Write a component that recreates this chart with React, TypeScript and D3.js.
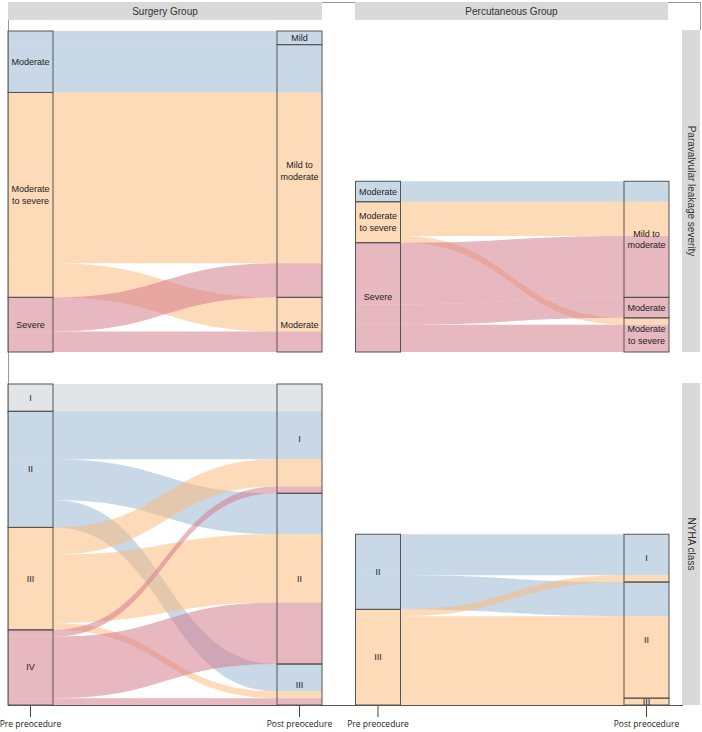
import React from "react";
import * as d3 from "d3";

const GROUPS = ["Surgery Group", "Percutaneous Group"];
const ROWS = ["Paravalvular leakage severity", "NYHA class"];
const AXIS_LABELS = ["Pre preocedure", "Post preocedure"];

const PVL_PRE = ["Moderate", "Moderate to severe", "Severe"];
const PVL_POST = ["Mild", "Mild to moderate", "Moderate", "Moderate to severe"];
const NYHA = ["I", "II", "III", "IV"];

type Flow = [string, string, number];

// [pre, post, patients]
const surgeryPvl: Flow[] = [
  ["Moderate", "Mild", 2],
  ["Moderate", "Mild to moderate", 7],
  ["Moderate to severe", "Mild to moderate", 25],
  ["Moderate to severe", "Moderate", 5],
  ["Severe", "Mild to moderate", 5],
  ["Severe", "Moderate", 3],
];
const percPvl: Flow[] = [
  ["Moderate", "Mild to moderate", 3],
  ["Moderate to severe", "Mild to moderate", 5],
  ["Moderate to severe", "Moderate to severe", 1],
  ["Severe", "Mild to moderate", 9],
  ["Severe", "Moderate", 3],
  ["Severe", "Moderate to severe", 4],
];
const surgeryNyha: Flow[] = [
  ["I", "I", 4],
  ["II", "I", 7],
  ["II", "II", 6],
  ["II", "III", 4],
  ["III", "I", 4],
  ["III", "II", 10],
  ["III", "III", 1],
  ["IV", "I", 1],
  ["IV", "II", 9],
  ["IV", "III", 1],
];
const percNyha: Flow[] = [
  ["II", "I", 6],
  ["II", "II", 5],
  ["III", "I", 1],
  ["III", "II", 12],
  ["III", "III", 1],
];

const PVL_COLORS: Record<string, string> = {
  Moderate: "#9bb8d2",
  "Moderate to severe": "#fbbc7e",
  Severe: "#d57e8c",
};
const NYHA_COLORS: Record<string, string> = {
  I: "#ccced0",
  II: "#9bb8d2",
  III: "#fbbc7e",
  IV: "#d57e8c",
};

const LABEL_LINES: Record<string, string[]> = {
  "Moderate to severe": ["Moderate", "to severe"],
  "Mild to moderate": ["Mild to", "moderate"],
};

const NODE_W = 45;
const FONT = "'Liberation Sans', Arial, Helvetica, sans-serif";

function layout(flows: Flow[], pre: string[], post: string[]) {
  const total = d3.sum(flows, (f) => f[2]);
  const mkNodes = (levels: string[], idx: number) => {
    let acc = total;
    return levels
      .map((l) => {
        const v = d3.sum(flows.filter((f) => f[idx] === l), (f) => f[2]);
        const top = acc;
        acc -= v;
        return { name: l, top, bottom: acc };
      })
      .filter((n) => n.top > n.bottom);
  };
  const preNodes = mkNodes(pre, 0);
  const postNodes = mkNodes(post, 1);
  const lodes = flows.map((f) => ({ from: f[0], to: f[1], n: f[2], aTop: 0, aBot: 0, bTop: 0, bBot: 0 }));
  const preCur = new Map(preNodes.map((n) => [n.name, n.top]));
  [...lodes]
    .sort((a, b) => pre.indexOf(a.from) - pre.indexOf(b.from) || post.indexOf(a.to) - post.indexOf(b.to))
    .forEach((l) => {
      const c = preCur.get(l.from)!;
      l.aTop = c;
      l.aBot = c - l.n;
      preCur.set(l.from, l.aBot);
    });
  const postCur = new Map(postNodes.map((n) => [n.name, n.top]));
  [...lodes]
    .sort((a, b) => post.indexOf(a.to) - post.indexOf(b.to) || pre.indexOf(a.from) - pre.indexOf(b.from))
    .forEach((l) => {
      const c = postCur.get(l.to)!;
      l.bTop = c;
      l.bBot = c - l.n;
      postCur.set(l.to, l.bBot);
    });
  return { total, preNodes, postNodes, lodes };
}

const PANELS = [
  { flows: surgeryPvl, pre: PVL_PRE, post: PVL_POST, colors: PVL_COLORS, col: 0, row: 0 },
  { flows: percPvl, pre: PVL_PRE, post: PVL_POST, colors: PVL_COLORS, col: 1, row: 0 },
  { flows: surgeryNyha, pre: NYHA, post: NYHA, colors: NYHA_COLORS, col: 0, row: 1 },
  { flows: percNyha, pre: NYHA, post: NYHA, colors: NYHA_COLORS, col: 1, row: 1 },
];

const COL_X = [
  [30.5, 299.5],
  [378, 646.5],
];
const ROW_Y = [
  [352, 31],
  [705, 384],
];
const STRIP_X = [
  [8, 322],
  [355, 668],
];

export default function App() {
  const maxTotal = d3.max(PANELS, (p) => d3.sum(p.flows, (f) => f[2]))!;
  return (
    <svg width={702} height={732} style={{ display: "block", position: "absolute", left: 0, top: 0, background: "#fff" }}>
      {/* frame lines */}
      <line x1={8} x2={700} y1={2.5} y2={2.5} stroke="#9a9a9a" strokeWidth={1} />
      <line x1={8.5} x2={8.5} y1={2} y2={705} stroke="#9a9a9a" strokeWidth={1} />
      <line x1={700.5} x2={700.5} y1={2} y2={30} stroke="#9a9a9a" strokeWidth={1} />

      {/* top strips */}
      {GROUPS.map((g, i) => (
        <g key={g}>
          <rect x={STRIP_X[i][0]} y={2} width={STRIP_X[i][1] - STRIP_X[i][0]} height={18} fill="#d9d9d9" />
          <text
            x={(STRIP_X[i][0] + STRIP_X[i][1]) / 2}
            y={11.5}
            textAnchor="middle"
            dominantBaseline="central"
            fontFamily={FONT}
            fontSize={10}
            fill="#333"
          >
            {g}
          </text>
        </g>
      ))}

      {/* right strips */}
      {ROWS.map((r, i) => {
        const y0 = ROW_Y[i][1] - 1;
        const y1 = ROW_Y[i][0];
        const cy = (y0 + y1) / 2;
        return (
          <g key={r}>
            <rect x={682} y={y0} width={18} height={y1 - y0} fill="#d9d9d9" />
            <text
              transform={`translate(691,${cy}) rotate(90)`}
              textAnchor="middle"
              dominantBaseline="central"
              fontFamily={FONT}
              fontSize={10}
              fill="#333"
            >
              {r}
            </text>
          </g>
        );
      })}

      {PANELS.map((p, pi) => {
        const L = layout(p.flows, p.pre, p.post);
        const y = d3.scaleLinear().domain([0, maxTotal]).range(ROW_Y[p.row]);
        const x = d3.scalePoint<string>().domain(AXIS_LABELS).range(COL_X[p.col]);
        const xa = x(AXIS_LABELS[0])!;
        const xb = x(AXIS_LABELS[1])!;
        const a0 = xa - NODE_W / 2;
        const a1 = xa + NODE_W / 2;
        const b0 = xb - NODE_W / 2;
        const b1 = xb + NODE_W / 2;
        const xm = (a1 + b0) / 2;
        return (
          <g key={pi}>
            {L.lodes.map((l, li) => {
              const path = d3.path();
              path.moveTo(a0, y(l.aTop));
              path.lineTo(a1, y(l.aTop));
              path.bezierCurveTo(xm, y(l.aTop), xm, y(l.bTop), b0, y(l.bTop));
              path.lineTo(b1, y(l.bTop));
              path.lineTo(b1, y(l.bBot));
              path.lineTo(b0, y(l.bBot));
              path.bezierCurveTo(xm, y(l.bBot), xm, y(l.aBot), a1, y(l.aBot));
              path.lineTo(a0, y(l.aBot));
              path.closePath();
              return <path key={li} d={path.toString()} fill={p.colors[l.from]} fillOpacity={0.55} />;
            })}
            {[
              { nodes: L.preNodes, cx: xa },
              { nodes: L.postNodes, cx: xb },
            ].map((ax, ai) => (
              <g key={ai}>
                {ax.nodes.map((n) => {
                  const top = y(n.top);
                  const bot = y(n.bottom);
                  const lines = LABEL_LINES[n.name] || [n.name];
                  const cy = (top + bot) / 2;
                  return (
                    <g key={n.name}>
                      <rect
                        x={ax.cx - NODE_W / 2}
                        y={top}
                        width={NODE_W}
                        height={bot - top}
                        fill="none"
                        stroke="#555"
                        strokeWidth={1}
                      />
                      {lines.map((t, ti) => (
                        <text
                          key={ti}
                          x={ax.cx}
                          y={cy + (ti - (lines.length - 1) / 2) * 11.5}
                          textAnchor="middle"
                          dominantBaseline="central"
                          fontFamily={FONT}
                          fontSize={9}
                          fill="#222"
                        >
                          {t}
                        </text>
                      ))}
                    </g>
                  );
                })}
              </g>
            ))}
            {p.row === 1 &&
              AXIS_LABELS.map((a) => (
                <g key={a}>
                  <line x1={x(a)!} x2={x(a)!} y1={705} y2={717} stroke="#444" strokeWidth={1} />
                  <text
                    x={x(a)!}
                    y={727}
                    textAnchor="middle"
                    fontFamily="'Open Sans', 'Noto Sans', sans-serif"
                    fontSize={8.5}
                    fill="#222"
                  >
                    {a}
                  </text>
                </g>
              ))}
          </g>
        );
      })}
      <line x1={8} x2={683} y1={705.5} y2={705.5} stroke="#555" strokeWidth={1} />
    </svg>
  );
}
